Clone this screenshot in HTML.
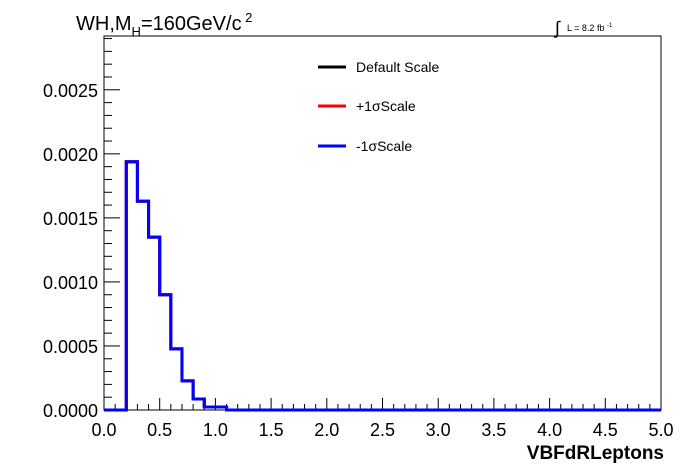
<!DOCTYPE html>
<html><head><meta charset="utf-8"><style>
body{margin:0;background:#fff;}
svg{display:block;font-family:"Liberation Sans",sans-serif;}
</style></head><body>
<svg id="c" width="696" height="472" xmlns="http://www.w3.org/2000/svg">
<rect width="696" height="472" fill="#fff"/>
<g id="axes"></g>
<text x="76" y="30" font-size="20">WH,M<tspan font-size="13" dy="6">H</tspan><tspan dy="-6">=160GeV/c</tspan><tspan font-size="13" dy="-8"> 2</tspan></text>
<text x="555" y="34" font-size="18">∫</text>
<text x="567" y="31" font-size="9">L = 8.2 fb <tspan font-size="6" dy="-4">-1</tspan></text>
<g>
<line x1="318" y1="67" x2="346" y2="67" stroke="#000" stroke-width="3"/>
<text x="356" y="72" font-size="14">Default Scale</text>
<line x1="318" y1="106" x2="346" y2="106" stroke="#f00" stroke-width="3"/>
<text x="356" y="111" font-size="14">+1σScale</text>
<line x1="318" y1="146" x2="346" y2="146" stroke="#00f" stroke-width="3"/>
<text x="356" y="151" font-size="14">-1σScale</text>
</g>
<text x="664" y="459" font-size="19" font-weight="bold" text-anchor="end">VBFdRLeptons</text>
</svg>
<script>
const binEdgesStart = 0.0;
const binWidth = 0.1;
const defaultVals = [0,0,0.001938,0.00163,0.00135,0.0009,0.000477,0.000227,0.000086,0.000023,0.000023];
const plusVals = [0,0,0.001938,0.00163,0.00135,0.0009,0.000477,0.000227,0.000086,0.000023,0.000023];
const minusVals = [0,0,0.001938,0.00163,0.00135,0.0009,0.000477,0.000227,0.000086,0.000023,0.000023];
const xTicks = ["0.0","0.5","1.0","1.5","2.0","2.5","3.0","3.5","4.0","4.5","5.0"];
const yTicks = ["0.0000","0.0005","0.0010","0.0015","0.0020","0.0025"];
const X0=104,X1=661,Y0=410,Y1=36,XMAX=5,YMAX=0.00292;
const sx=v=>X0+(v/XMAX)*(X1-X0);
const sy=v=>Y0-(v/YMAX)*(Y0-Y1);
const NS="http://www.w3.org/2000/svg";
const svg=document.getElementById('c'),ax=document.getElementById('axes');
function mk(t,a,p){const e=document.createElementNS(NS,t);for(const k in a)e.setAttribute(k,a[k]);(p||svg).appendChild(e);return e;}
const fr=mk('rect',{x:X0,y:Y1,width:X1-X0,height:Y0-Y1,fill:'none',stroke:'#000','stroke-width':1},ax);


for(let i=0;i<=50;i++){const x=sx(i*0.1);const l=i%5==0?12:6;mk('line',{x1:x,y1:Y0,x2:x,y2:Y0-l,stroke:'#000'},ax);}
xTicks.forEach(t=>{const e=mk('text',{x:sx(parseFloat(t)),y:Y0+26,'font-size':18,'text-anchor':'middle'},ax);e.textContent=t;

});
for(let i=0;i*0.0001<=YMAX;i++){const y=sy(i*0.0001);const l=i%5==0?16:8;mk('line',{x1:X0,y1:y,x2:X0+l,y2:y,stroke:'#000'},ax);}
yTicks.forEach(t=>{const e=mk('text',{x:X0-6,y:sy(parseFloat(t))+7,'font-size':18,'text-anchor':'end'},ax);e.textContent=t;

});
function hist(vals,color,name){let d='M'+sx(binEdgesStart)+','+sy(0);
const n=Math.round(XMAX/binWidth);
for(let i=0;i<n;i++){const v=i<vals.length?vals[i]:0;d+=' L'+sx(binEdgesStart+i*binWidth)+','+sy(v)+' L'+sx(binEdgesStart+(i+1)*binWidth)+','+sy(v);}
const p=mk('path',{d:d,fill:'none',stroke:color,'stroke-width':3});

}
hist(defaultVals,'#000','hist-default');
hist(plusVals,'#f00','hist-plus-1sigma');
hist(minusVals,'#00f','hist-minus-1sigma');
</script>
</body></html>
